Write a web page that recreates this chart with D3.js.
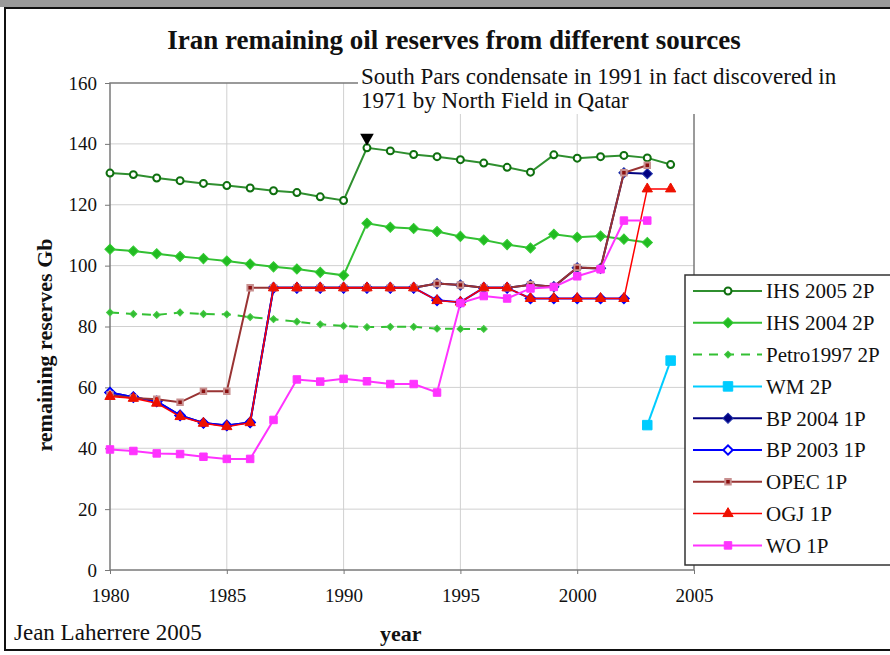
<!DOCTYPE html>
<html>
<head>
<meta charset="utf-8">
<script src="https://cdn.jsdelivr.net/npm/d3@7"></script>
<style>
body { margin: 0; background: #fff; }
svg { display: block; }
text { font-family: "Liberation Serif", "Times New Roman", serif; fill: #111; }
</style>
</head>
<body>
<div id="chart"></div>
<script>
// tick labels
var yearTicks = [1980, 1985, 1990, 1995, 2000, 2005];
var valueTicks = [0, 20, 40, 60, 80, 100, 120, 140, 160];

// series values (Gb), first year noted per series
var ihs2005 = [130.4, 129.9, 128.8, 127.9, 127.0, 126.3, 125.5, 124.6, 124.0, 122.6, 121.4,
    138.7, 137.7, 136.5, 135.8, 134.8, 133.7, 132.3, 130.7, 136.4, 135.3, 135.8, 136.2, 135.4, 133.2]; // 1980-2004
var ihs2004 = [105.4, 104.8, 103.9, 103.0, 102.3, 101.5, 100.5, 99.6, 98.9, 97.8, 96.8,
    113.9, 112.6, 112.2, 111.2, 109.6, 108.4, 106.9, 105.8, 110.3, 109.3, 109.7, 108.7, 107.6]; // 1980-2003
var petro1997 = [84.6, 84.1, 83.8, 84.6, 84.1, 84.0, 83.1, 82.4, 81.6, 80.7, 80.2,
    79.8, 79.9, 79.9, 79.3, 79.2, 79.2]; // 1980-1996
var wm = [47.6, 68.8]; // 2003-2004
var bp2004 = [58.3, 56.8, 55.4, 50.8, 48.3, 47.5, 48.5, 92.7, 92.7, 92.7, 92.7, 92.7, 92.7, 92.7,
    94.1, 93.6, 92.7, 92.7, 93.7, 93.1, 99.3, 99.1, 130.5, 130.2]; // 1980-2003
var bp2003 = [58.3, 56.8, 55.4, 50.8, 48.3, 47.5, 48.5, 92.7, 92.7, 92.7, 92.7, 92.7, 92.7, 92.7,
    88.6, 88.0, 92.7, 92.7, 89.2, 89.2, 89.2, 89.2, 89.2]; // 1980-2002
var opec = [57.5, 56.5, 56.1, 55.1, 58.7, 58.7, 92.7, 92.7, 92.7, 92.7, 92.7, 92.7, 92.7, 92.7,
    94.1, 93.6, 92.7, 92.7, 93.7, 93.1, 99.4, 99.1, 130.5, 133.0]; // 1980-2003
var ogj = [57.0, 56.4, 54.8, 50.4, 48.2, 47.1, 48.4, 92.7, 92.7, 92.7, 92.7, 92.7, 92.7, 92.7,
    88.5, 88.0, 92.7, 92.7, 89.2, 89.2, 89.2, 89.2, 89.2, 125.2, 125.2]; // 1980-2004
var wo = [39.6, 39.1, 38.3, 38.1, 37.2, 36.5, 36.5, 49.3, 62.6, 61.9, 62.8, 62.0, 61.1, 61.1,
    58.3, 87.7, 90.0, 89.2, 92.5, 93.0, 96.5, 98.8, 114.8, 114.8]; // 1980-2003

var seriesNames = ["IHS 2005 2P", "IHS 2004 2P", "Petro1997 2P", "WM 2P", "BP 2004 1P",
    "BP 2003 1P", "OPEC 1P", "OGJ 1P", "WO 1P"];
var seriesValues = [ihs2005, ihs2004, petro1997, wm, bp2004, bp2003, opec, ogj, wo];
var seriesStart = [1980, 1980, 1980, 2003, 1980, 1980, 1980, 1980, 1980];

var styles = [
    { line: "#2f8f2f", width: 2, dash: null, sym: d3.symbolCircle, size: 38, fill: "#fff", stroke: "#0f6f0f", sw: 2, rot: 0 },
    { line: "#33c033", width: 2, dash: null, sym: d3.symbolSquare, size: 52, fill: "#22bb22", stroke: "#33cc33", sw: 1, rot: 45 },
    { line: "#33c033", width: 2, dash: "9,7", sym: d3.symbolSquare, size: 24, fill: "#33bb33", stroke: "#44cc44", sw: 1, rot: 45 },
    { line: "#00ccff", width: 2, dash: null, sym: d3.symbolSquare, size: 90, fill: "#00ccff", stroke: "#00ccff", sw: 1, rot: 0 },
    { line: "#000080", width: 2, dash: null, sym: d3.symbolSquare, size: 52, fill: "#000080", stroke: "#2233aa", sw: 1, rot: 45 },
    { line: "#0000ff", width: 2, dash: null, sym: d3.symbolSquare, size: 44, fill: "#fff", stroke: "#0000ff", sw: 2, rot: 45 },
    { line: "#993333", width: 2, dash: null, sym: d3.symbolSquare, size: 30, fill: "#8b1010", stroke: "#c89090", sw: 2, rot: 0 },
    { line: "#ff0000", width: 1.5, dash: null, sym: d3.symbolTriangle, size: 46, fill: "#ee1100", stroke: "#ee1100", sw: 1, rot: 0 },
    { line: "#ff33ff", width: 2, dash: null, sym: d3.symbolSquare, size: 56, fill: "#ff33ff", stroke: "#ff33ff", sw: 1, rot: 0 }
];

var margin = { left: 110, right: 194, top: 83, bottom: 85 };
var W = 890, H = 655;

var svg = d3.select("#chart").append("svg")
    .attr("width", W)
    .attr("height", H);

// outer frame
svg.append("rect").attr("x", 0).attr("y", 0).attr("width", W).attr("height", 7).attr("fill", "#9a9a9a");
svg.append("rect")
    .attr("x", 5).attr("y", 8).attr("width", 900).attr("height", 642)
    .attr("fill", "#fff").attr("stroke", "#111").attr("stroke-width", 2);

var x = d3.scaleLinear().domain([1980, 2005]).range([margin.left, W - margin.right - 2]);
var y = d3.scaleLinear().domain([0, 160]).range([H - margin.bottom, margin.top]);

// grid
svg.append("g").selectAll("line").data(valueTicks.slice(1, -1)).enter().append("line")
    .attr("x1", x(1980)).attr("x2", x(2005))
    .attr("y1", d => y(d)).attr("y2", d => y(d))
    .attr("stroke", "#d0d0d0").attr("stroke-width", 1);
svg.append("g").selectAll("line").data(yearTicks.slice(1, -1)).enter().append("line")
    .attr("x1", d => x(d)).attr("x2", d => x(d))
    .attr("y1", y(0)).attr("y2", y(160))
    .attr("stroke", "#d0d0d0").attr("stroke-width", 1);

// plot border
svg.append("rect")
    .attr("x", x(1980)).attr("y", y(160))
    .attr("width", x(2005) - x(1980)).attr("height", y(0) - y(160))
    .attr("fill", "none").attr("stroke", "#7a7a7a").attr("stroke-width", 1.5);

// axes
var yAxis = svg.append("g")
    .attr("transform", "translate(" + x(1980) + ",0)")
    .call(d3.axisLeft(y).tickValues(valueTicks).tickSize(5).tickPadding(8));
var xAxis = svg.append("g")
    .attr("transform", "translate(0," + y(0) + ")")
    .call(d3.axisBottom(x).tickValues(yearTicks).tickFormat(d3.format("d")).tickSize(4).tickPadding(15));
[yAxis, xAxis].forEach(g => {
    g.select(".domain").remove();
    g.selectAll(".tick line").attr("stroke", "#777");
    g.selectAll(".tick text").style("font-family", "'Liberation Serif', serif")
        .style("font-size", "19px").attr("fill", "#222");
});

// series
var line = d3.line().x(d => x(d.year)).y(d => y(d.value));

seriesNames.forEach((name, i) => {
    var st = styles[i];
    var pts = seriesValues[i].map((v, k) => ({ year: seriesStart[i] + k, value: v }));
    var g = svg.append("g");
    g.append("path").datum(pts)
        .attr("d", line)
        .attr("fill", "none")
        .attr("stroke", st.line)
        .attr("stroke-width", st.width)
        .attr("stroke-dasharray", st.dash);
    g.selectAll("path.m").data(pts).enter().append("path")
        .attr("class", "m")
        .attr("d", d3.symbol().type(st.sym).size(st.size))
        .attr("transform", d => "translate(" + x(d.year) + "," + y(d.value) + ") rotate(" + st.rot + ")")
        .attr("fill", st.fill)
        .attr("stroke", st.stroke)
        .attr("stroke-width", st.sw);
});

// annotation marker on 1991 jump
svg.append("path")
    .attr("d", d3.symbol().type(d3.symbolTriangle).size(80))
    .attr("transform", "translate(" + x(1991) + "," + y(142) + ") rotate(180)")
    .attr("fill", "#000");

// annotation text
svg.append("rect").attr("x", 358).attr("y", 62).attr("width", 490).attr("height", 52).attr("fill", "#fff");
var ann = svg.append("text").attr("x", 361).attr("y", 84).style("font-size", "23px").attr("fill", "#222");
ann.append("tspan").attr("x", 361).text("South Pars condensate in 1991 in fact discovered in");
ann.append("tspan").attr("x", 361).attr("dy", 24).text("1971 by North Field in Qatar");

// title
svg.append("text")
    .attr("x", 454).attr("y", 49)
    .attr("text-anchor", "middle")
    .style("font-size", "27px").style("font-weight", "bold")
    .text("Iran remaining oil reserves from different sources");

// axis labels
svg.append("text")
    .attr("transform", "translate(52,345) rotate(-90)")
    .attr("text-anchor", "middle")
    .style("font-size", "22px").style("font-weight", "bold")
    .text("remaining reserves Gb");
svg.append("text")
    .attr("x", 380).attr("y", 641)
    .style("font-size", "22px").style("font-weight", "bold")
    .text("year");
svg.append("text")
    .attr("x", 14).attr("y", 640)
    .style("font-size", "23px")
    .text("Jean Laherrere 2005");

// legend
var legend = svg.append("g");
legend.append("rect")
    .attr("x", 685).attr("y", 275).attr("width", 230).attr("height", 290)
    .attr("fill", "#fff").attr("stroke", "#333").attr("stroke-width", 1.5);
seriesNames.forEach((name, i) => {
    var st = styles[i];
    var ly = 291 + i * 31.8;
    legend.append("line")
        .attr("x1", 693).attr("x2", 762).attr("y1", ly).attr("y2", ly)
        .attr("stroke", st.line).attr("stroke-width", st.width)
        .attr("stroke-dasharray", st.dash);
    legend.append("path")
        .attr("d", d3.symbol().type(st.sym).size(st.size))
        .attr("transform", "translate(728," + ly + ") rotate(" + st.rot + ")")
        .attr("fill", st.fill).attr("stroke", st.stroke).attr("stroke-width", st.sw);
    legend.append("text")
        .attr("x", 766).attr("y", ly).attr("dy", "0.35em")
        .style("font-size", "21px").attr("fill", "#222")
        .text(name);
});
</script>
</body>
</html>
